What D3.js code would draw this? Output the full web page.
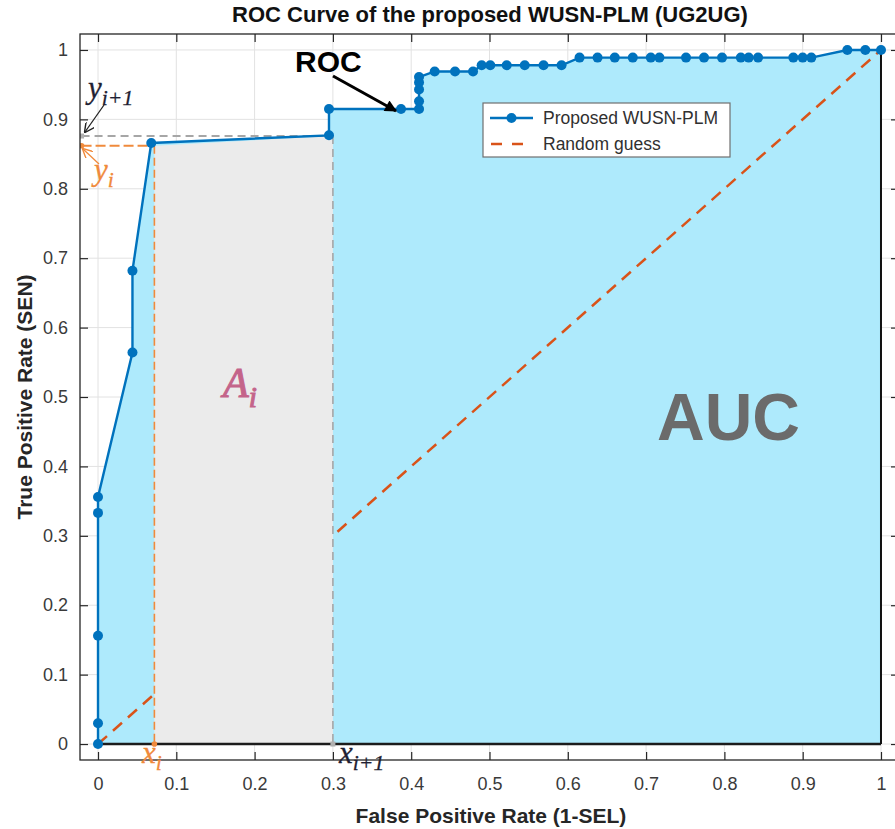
<!DOCTYPE html>
<html>
<head>
<meta charset="utf-8">
<script src="https://cdn.jsdelivr.net/npm/d3@7"></script>
<style>
  body { margin: 0; background: #fff; }
  svg { display: block; font-family: "Liberation Sans", Arial, sans-serif; }
</style>
</head>
<body>
<svg id="chart" width="895" height="829"></svg>
<script>
// ROC operating points of the proposed WUSN-PLM classifier
const fpr = [0, 0, 0, 0, 0, 0.044, 0.044, 0.068, 0.295, 0.295, 0.387, 0.41, 0.41, 0.41, 0.41, 0.41,
  0.43, 0.456, 0.479, 0.49, 0.501, 0.522, 0.545, 0.569, 0.592,
  0.615, 0.638, 0.66, 0.683, 0.706, 0.717, 0.751, 0.774, 0.797, 0.821, 0.831, 0.843, 0.888, 0.9, 0.911,
  0.957, 0.98, 1.0];
const tpr = [0, 0.03, 0.156, 0.333, 0.356, 0.564, 0.682, 0.866, 0.877, 0.915, 0.915, 0.915, 0.926, 0.943, 0.953, 0.961,
  0.969, 0.969, 0.969, 0.978, 0.978, 0.978, 0.978, 0.978, 0.978,
  0.989, 0.989, 0.989, 0.989, 0.989, 0.989, 0.989, 0.989, 0.989, 0.989, 0.989, 0.989, 0.989, 0.989, 0.989,
  1.0, 1.0, 1.0];

// chance-level reference line
const guessX = [0, 1];
const guessY = [0, 1];

// one trapezoid slice of the area sum: (x_i, y_i) -> (x_{i+1}, y_{i+1})
const sliceX = [0.072, 0.300];
const sliceY = [0.862, 0.876];

const xTicks = [0, 0.1, 0.2, 0.3, 0.4, 0.5, 0.6, 0.7, 0.8, 0.9, 1];
const yTicks = [0, 0.1, 0.2, 0.3, 0.4, 0.5, 0.6, 0.7, 0.8, 0.9, 1];
const tickLabels = ["0", "0.1", "0.2", "0.3", "0.4", "0.5", "0.6", "0.7", "0.8", "0.9", "1"];

const seriesNames = ["Proposed WUSN-PLM", "Random guess"];

const svg = d3.select("#chart");
const x = d3.scaleLinear().domain([-0.023, 1.023]).range([80, 899]);
const y = d3.scaleLinear().domain([-0.023, 1.023]).range([760, 34]);

const BLUE = "#0072BD", ORANGE = "#D95319", FILL = "#aeeafc", AXIS = "#262626";

const defs = svg.append("defs");
defs.append("clipPath").attr("id", "plotClip").append("rect")
  .attr("x", 80).attr("y", 34).attr("width", 819).attr("height", 726);
function arrowMarker(id, color, w, h) {
  defs.append("marker").attr("id", id)
    .attr("viewBox", "0 0 10 10").attr("refX", 9).attr("refY", 5)
    .attr("markerWidth", w).attr("markerHeight", h)
    .attr("markerUnits", "userSpaceOnUse").attr("orient", "auto")
    .append("path").attr("d", "M0,0 L10,5 L0,10 z").attr("fill", color);
}
arrowMarker("arrBlack", "#000", 14, 12);
function openMarker(id, color) {
  defs.append("marker").attr("id", id)
    .attr("viewBox", "0 0 10 10").attr("refX", 9).attr("refY", 5)
    .attr("markerWidth", 10).attr("markerHeight", 10)
    .attr("markerUnits", "userSpaceOnUse").attr("orient", "auto")
    .append("path").attr("d", "M0,0 L10,5 L0,10").attr("fill", "none")
    .attr("stroke", color).attr("stroke-width", 1.4);
}
openMarker("arrThinDark", "#222");
openMarker("arrThinOrange", "#f08a3c");

const plot = svg.append("g").attr("clip-path", "url(#plotClip)");

// grid
plot.append("g").selectAll("line.gx").data(xTicks).join("line")
  .attr("x1", d => x(d)).attr("x2", d => x(d)).attr("y1", 34).attr("y2", 760)
  .attr("stroke", "#e2e2e2").attr("stroke-width", 1);
plot.append("g").selectAll("line.gy").data(yTicks).join("line")
  .attr("x1", 80).attr("x2", 899).attr("y1", d => y(d)).attr("y2", d => y(d))
  .attr("stroke", "#e2e2e2").attr("stroke-width", 1);

const pts = fpr.map((v, i) => [v, tpr[i]]);

// area under the curve
plot.append("path").datum(pts)
  .attr("d", d3.area().x(d => x(d[0])).y0(y(0)).y1(d => y(d[1])))
  .attr("fill", FILL);

// random guess diagonal
plot.append("path").datum(guessX.map((v, i) => [v, guessY[i]]))
  .attr("d", d3.line().x(d => x(d[0])).y(d => y(d[1])))
  .attr("stroke", ORANGE).attr("stroke-width", 2.5).attr("stroke-dasharray", "12,8")
  .attr("fill", "none");

// highlighted trapezoid A_i
plot.append("path").datum(sliceX.map((v, i) => [v, sliceY[i]]))
  .attr("d", d3.area().x(d => x(d[0])).y0(y(0)).y1(d => y(d[1])))
  .attr("fill", "#ebebeb");

// guide lines for the slice bounds
const xLeft = -0.021;
plot.append("line").attr("x1", x(xLeft)).attr("x2", x(sliceX[1]))
  .attr("y1", y(sliceY[1])).attr("y2", y(sliceY[1]))
  .attr("stroke", "#a6a6a6").attr("stroke-width", 2).attr("stroke-dasharray", "8,5");
plot.append("line").attr("x1", x(sliceX[1])).attr("x2", x(sliceX[1]))
  .attr("y1", y(sliceY[1])).attr("y2", y(0))
  .attr("stroke", "#a6a6a6").attr("stroke-width", 1.6).attr("stroke-dasharray", "8,5");
plot.append("line").attr("x1", x(xLeft)).attr("x2", x(sliceX[0]))
  .attr("y1", y(sliceY[0])).attr("y2", y(sliceY[0]))
  .attr("stroke", "#f08a3c").attr("stroke-width", 2).attr("stroke-dasharray", "10,4");
plot.append("line").attr("x1", x(sliceX[0])).attr("x2", x(sliceX[0]))
  .attr("y1", y(sliceY[0])).attr("y2", y(0))
  .attr("stroke", "#f08a3c").attr("stroke-width", 1.6).attr("stroke-dasharray", "8,4");

// axis-bound outline of the AUC region
plot.append("line").attr("x1", x(0)).attr("x2", x(1)).attr("y1", y(0)).attr("y2", y(0))
  .attr("stroke", "#1c1c1c").attr("stroke-width", 2.6);
plot.append("line").attr("x1", x(1)).attr("x2", x(1)).attr("y1", y(0)).attr("y2", y(1))
  .attr("stroke", "#111").attr("stroke-width", 2);

// small projection dots
plot.append("circle").attr("cx", x(xLeft)).attr("cy", y(sliceY[0])).attr("r", 2.8).attr("fill", "#f08a3c");
plot.append("circle").attr("cx", x(sliceX[0])).attr("cy", y(0)).attr("r", 2.8).attr("fill", "#f08a3c");
plot.append("rect").attr("x", x(xLeft) - 2.5).attr("y", y(sliceY[1]) - 2.5).attr("width", 5).attr("height", 5).attr("fill", "#b0b0b0");
plot.append("rect").attr("x", x(sliceX[1]) - 2.5).attr("y", y(0) - 2.5).attr("width", 5).attr("height", 5).attr("fill", "#b0b0b0");

// ROC curve
plot.append("path").datum(pts)
  .attr("d", d3.line().x(d => x(d[0])).y(d => y(d[1])))
  .attr("stroke", BLUE).attr("stroke-width", 2.4).attr("fill", "none");
plot.append("g").selectAll("circle").data(pts).join("circle")
  .attr("cx", d => x(d[0])).attr("cy", d => y(d[1])).attr("r", 5).attr("fill", BLUE);

// axes with inward ticks
const fmt = (d, i) => tickLabels[i];
const gx = svg.append("g").attr("transform", "translate(0,760)")
  .call(d3.axisBottom(x).tickValues(xTicks).tickFormat(fmt).tickSizeInner(-8).tickSizeOuter(0).tickPadding(17));
const gy = svg.append("g").attr("transform", "translate(80,0)")
  .call(d3.axisLeft(y).tickValues(yTicks).tickFormat(fmt).tickSizeInner(-8).tickSizeOuter(0).tickPadding(12));
const gt = svg.append("g").attr("transform", "translate(0,34)")
  .call(d3.axisTop(x).tickValues(xTicks).tickFormat("").tickSizeInner(-8).tickSizeOuter(0));
const gr = svg.append("g").attr("transform", "translate(899,0)")
  .call(d3.axisRight(y).tickValues(yTicks).tickFormat("").tickSizeInner(-8).tickSizeOuter(0));
[gx, gy, gt, gr].forEach(g => {
  g.select(".domain").remove();
  g.selectAll(".tick line").attr("stroke", AXIS).attr("stroke-width", 1.2);
  g.selectAll(".tick text").attr("fill", "#3a3a3a").attr("font-size", 18)
    .attr("font-family", "'Liberation Sans', Arial, sans-serif");
});
svg.append("rect").attr("x", 80).attr("y", 34).attr("width", 819).attr("height", 726)
  .attr("fill", "none").attr("stroke", AXIS).attr("stroke-width", 1.3);

// titles
svg.append("text").attr("x", 490).attr("y", 22).attr("text-anchor", "middle")
  .attr("font-size", 22).attr("font-weight", "bold").attr("fill", "#111")
  .text("ROC Curve of the proposed WUSN-PLM (UG2UG)");
svg.append("text").attr("x", 491).attr("y", 823).attr("text-anchor", "middle")
  .attr("font-size", 21).attr("font-weight", "bold").attr("fill", AXIS)
  .text("False Positive Rate (1-SEL)");
svg.append("text").attr("transform", "translate(32,397) rotate(-90)").attr("text-anchor", "middle")
  .attr("font-size", 21).attr("font-weight", "bold").attr("fill", AXIS)
  .text("True Positive Rate (SEN)");

// legend
const lg = svg.append("g");
lg.append("rect").attr("x", 483).attr("y", 103).attr("width", 247).attr("height", 54)
  .attr("fill", "#fff").attr("stroke", "#6f6f6f").attr("stroke-width", 1.2);
lg.append("line").attr("x1", 490).attr("x2", 533).attr("y1", 118).attr("y2", 118)
  .attr("stroke", BLUE).attr("stroke-width", 2.4);
lg.append("circle").attr("cx", 511.5).attr("cy", 118).attr("r", 5).attr("fill", BLUE);
lg.append("line").attr("x1", 491).attr("x2", 533).attr("y1", 144).attr("y2", 144)
  .attr("stroke", ORANGE).attr("stroke-width", 2.5).attr("stroke-dasharray", "11,10");
seriesNames.forEach((s, i) => {
  lg.append("text").attr("x", 543).attr("y", 124 + i * 26).attr("font-size", 17.5)
    .attr("fill", "#303030").text(s);
});

// annotations
svg.append("text").attr("x", 295).attr("y", 72).attr("font-size", 30).attr("font-weight", "bold")
  .attr("fill", "#000").text("ROC");
svg.append("line").attr("x1", 333).attr("y1", 76).attr("x2", 396).attr("y2", 111)
  .attr("stroke", "#000").attr("stroke-width", 3).attr("marker-end", "url(#arrBlack)");

svg.append("text").attr("x", 657).attr("y", 440).attr("font-size", 66).attr("font-weight", "bold")
  .attr("fill", "#6b6b6b").text("AUC");

const serif = "'Liberation Serif', 'DejaVu Serif', serif";
function mathLabel(px, py, base, sub, color, size, weight) {
  const t = svg.append("text").attr("x", px).attr("y", py).attr("font-family", serif)
    .attr("font-style", "italic").attr("fill", color).attr("font-size", size)
    .attr("stroke", color).attr("stroke-width", weight);
  t.append("tspan").text(base);
  t.append("tspan").attr("font-size", size * 0.7).attr("dy", size * 0.24).text(sub);
  return t;
}
mathLabel(223, 397, "A", "i", "#c4648a", 42, 1.1);
mathLabel(88, 98, "y", "i+1", "#1f1f33", 31, 0.3);
mathLabel(94, 180, "y", "i", "#f08a3c", 31, 0.3);
mathLabel(142, 763, "x", "i", "#f08a3c", 31, 0.3);
mathLabel(339, 763, "x", "i+1", "#1f1f33", 31, 0.3);

svg.append("line").attr("x1", 104).attr("y1", 105).attr("x2", 85).attr("y2", 132)
  .attr("stroke", "#222").attr("stroke-width", 1.3).attr("marker-end", "url(#arrThinDark)");
svg.append("line").attr("x1", 99).attr("y1", 164).attr("x2", 83).attr("y2", 149)
  .attr("stroke", "#f08a3c").attr("stroke-width", 1.3).attr("marker-end", "url(#arrThinOrange)");
</script>
</body>
</html>
